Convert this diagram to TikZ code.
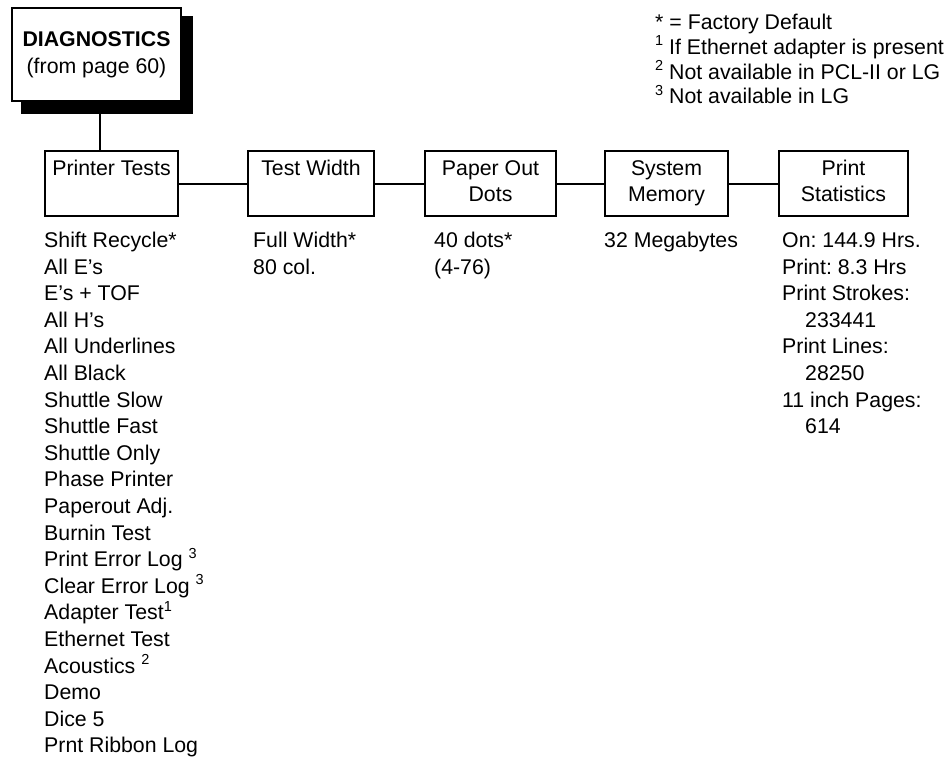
\documentclass[tikz,border=0pt]{standalone}
\usepackage{fontspec}
\setmainfont{Liberation Sans}
\frenchspacing
\newcommand\lsup[1]{\raisebox{8.5pt}{\fontsize{14.5}{14.5}\selectfont #1}}
\begin{document}
\frenchspacing
\begin{tikzpicture}[x=1pt,y=-1pt,
  txt/.style={font=\fontsize{21.3}{25.4}\selectfont\frenchspacing, inner sep=0pt, anchor=base west},
  menubox/.style={draw, line width=2pt, minimum height=65pt, inner sep=0pt, align=center,
    font=\fontsize{21.3}{26}\selectfont},
  link/.style={line width=2pt}]
\useasboundingbox (0,0) rectangle (950,760);

% DIAGNOSTICS box with shadow
\node[fill=black, minimum width=172pt, minimum height=98pt, inner sep=0pt] (shadow) at (107,65) {};
\node[draw, line width=2pt, fill=white, minimum width=169pt, minimum height=93pt, inner sep=0pt,
  align=center, font=\fontsize{21.3}{27.4}\selectfont] (diag) at (96.5,54.5)
  {\textbf{DIAGNOSTICS}\\(from page 60)};

% menu boxes
\node[menubox, minimum width=133pt] (b1) at (111.5,183.5) {\strut Printer Tests\\\strut};
\node[menubox, minimum width=126pt] (b2) at (311,183.5) {\strut Test Width\\\strut};
\node[menubox, minimum width=131pt] (b3) at (490.5,183.5) {\strut Paper Out\\\strut Dots};
\node[menubox, minimum width=123pt] (b4) at (666.5,183.5) {\strut System\\\strut Memory};
\node[menubox, minimum width=129pt] (b5) at (843.5,183.5) {\strut Print\\\strut Statistics};

% connectors
\draw[link] ([xshift=3.5pt]diag.south) -- ([xshift=3.5pt]diag.south |- b1.north);
\draw[link] (b1) -- (b2);
\draw[link] (b2) -- (b3);
\draw[link] (b3) -- (b4);
\draw[link] (b4) -- (b5);

% legend
\foreach \t [count=\i from 0] in {* = Factory Default,
    \lsup{1} If Ethernet adapter is present,
    \lsup{2} Not available in PCL-II or LG,
    \lsup{3} Not available in LG}
  \node[txt] (leg\i) at (655,{29.5+24.8*\i}) {\t};

% Printer Tests list
\foreach \t [count=\i from 0] in {Shift Recycle*, All E’s, E’s + TOF, All H’s, All Underlines,
    All Black, Shuttle Slow, Shuttle Fast, Shuttle Only, Phase Printer, Paperout Adj.,
    Burnin Test, Print Error Log \lsup{3}, Clear Error Log \lsup{3}, Adapter Test\lsup{1},
    Ethernet Test, Acoustics \lsup{2}, Demo, Dice 5, Prnt Ribbon Log}
  \node[txt] (pa\i) at (44,{247.5+26.6*\i}) {\t};

% Test Width list
\foreach \t [count=\i from 0] in {Full Width*, 80 col.}
  \node[txt] (tw\i) at (253,{247.5+26.6*\i}) {\t};

% Paper Out Dots list
\foreach \t [count=\i from 0] in {40 dots*, (4-76)}
  \node[txt] (po\i) at (434,{247.5+26.6*\i}) {\t};

% System Memory list
\node[txt] (sm0) at (604,247.5) {32 Megabytes};

% Print Statistics list
\foreach \t/\dx [count=\i from 0] in {On: 144.9 Hrs./0, Print: 8.3 Hrs/0, Print Strokes:/0,
    233441/23, Print Lines:/0, 28250/23, 11 inch Pages:/0, 614/23}
  \node[txt] (ps\i) at ({782+\dx},{247.5+26.6*\i}) {\t};
\end{tikzpicture}
\end{document}
